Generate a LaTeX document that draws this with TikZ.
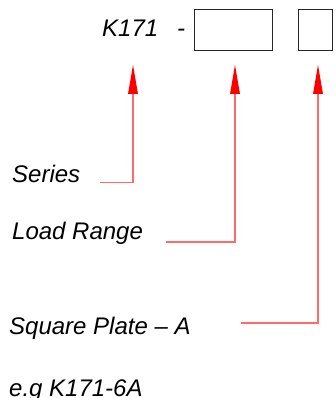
\documentclass[tikz,border=0pt]{standalone}
\usepackage{fontspec}
\setmainfont{Liberation Sans}
\definecolor{leader}{HTML}{FF6A6A}
\begin{document}
\begin{tikzpicture}[x=1pt,y=-1pt,
  lbl/.style={anchor=base west,inner sep=0pt,font=\fontsize{24}{28}\selectfont\itshape},
  slot/.style={draw=black!85,line width=1pt,fill=white,inner sep=0pt,anchor=north west},
  leaderline/.style={draw=leader,line width=1.1pt},
  tip/.style={fill=red,draw=none}]
\useasboundingbox (0,0) rectangle (335,398);
% header
\node[lbl] (k) at (102,37) {K171};
\node[lbl] (dash) at (177,37) {-};
\node[slot,minimum width=78pt,minimum height=41pt] (b1) at (194,9.5) {};
\node[slot,minimum width=34pt,minimum height=41pt] (b2) at (298,9.5) {};
% labels
\node[lbl] (series) at (12,182) {Series};
\node[lbl] (load) at (12,239.5) {Load Range};
\node[lbl] (plate) at (9,334) {Square Plate -- A};
\node[lbl] (eg) at (9,396.5) {e.g K171-6A};
% leader coordinates
\coordinate (t1) at (133,65);
\coordinate (c1) at (133,182.5);
\coordinate (e1) at (99.5,182.5);
\coordinate (t2) at (235,65);
\coordinate (c2) at (235,242);
\coordinate (e2) at (166,242);
\coordinate (t3) at (318,65);
\coordinate (c3) at (318,323);
\coordinate (e3) at (241,323);
% leaders
\draw[leaderline] (e1) -- (c1) -- ([yshift=-25]t1);
\draw[leaderline] (e2) -- (c2) -- ([yshift=-25]t2);
\draw[leaderline] (e3) -- (c3) -- ([yshift=-25]t3);
% arrow heads
\foreach \t in {t1,t2,t3}{
  \fill[tip] (\t) -- ([xshift=-5,yshift=-29]\t) -- ([xshift=5,yshift=-29]\t) -- cycle;
}
\end{tikzpicture}
\end{document}
